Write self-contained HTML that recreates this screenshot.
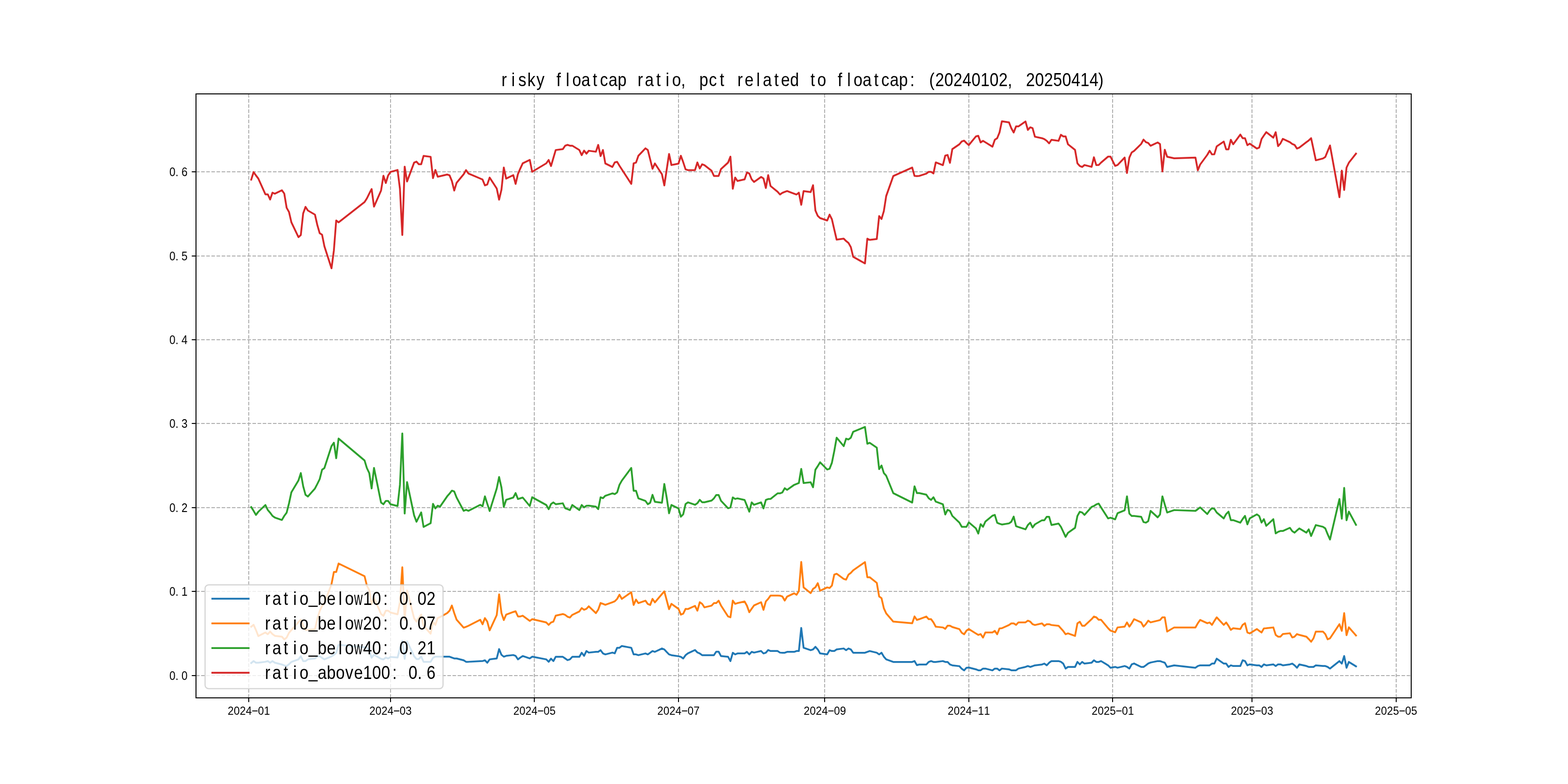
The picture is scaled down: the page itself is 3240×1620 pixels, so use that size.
<!DOCTYPE html>
<html lang="en"><head><meta charset="utf-8"><title>risky floatcap ratio</title>
<style>html,body{margin:0;padding:0;background:#fff}body{width:3240px;height:1620px;overflow:hidden}svg{display:block}text{font-family:'Liberation Sans', 'DejaVu Sans', sans-serif;fill:#000}</style>
</head><body>
<svg width="3240" height="1620" viewBox="0 0 3240 1620">
<rect x="0" y="0" width="3240" height="1620" fill="#ffffff"/>
<g id="grid" stroke="#b0b0b0" stroke-width="2" stroke-dasharray="7.4 3.2" fill="none">
<line x1="514" y1="1441.8" x2="514" y2="194.4"/>
<line x1="807" y1="1441.8" x2="807" y2="194.4"/>
<line x1="1104" y1="1441.8" x2="1104" y2="194.4"/>
<line x1="1402" y1="1441.8" x2="1402" y2="194.4"/>
<line x1="1704" y1="1441.8" x2="1704" y2="194.4"/>
<line x1="2002" y1="1441.8" x2="2002" y2="194.4"/>
<line x1="2299" y1="1441.8" x2="2299" y2="194.4"/>
<line x1="2587" y1="1441.8" x2="2587" y2="194.4"/>
<line x1="2885" y1="1441.8" x2="2885" y2="194.4"/>
<line x1="405" y1="1396" x2="2916" y2="1396"/>
<line x1="405" y1="1222" x2="2916" y2="1222"/>
<line x1="405" y1="1049" x2="2916" y2="1049"/>
<line x1="405" y1="875" x2="2916" y2="875"/>
<line x1="405" y1="702" x2="2916" y2="702"/>
<line x1="405" y1="529" x2="2916" y2="529"/>
<line x1="405" y1="355" x2="2916" y2="355"/>
</g>
<clipPath id="ax"><rect x="405" y="194" width="2511" height="1248"/></clipPath>
<g id="series" clip-path="url(#ax)" fill="none" stroke-width="3.75" stroke-linejoin="round" stroke-linecap="square">
<polyline stroke="#1f77b4" points="519.1,1370.0 524.0,1366.0 528.9,1369.4 533.8,1369.4 548.4,1367.5 553.3,1366.0 558.2,1369.4 563.0,1366.0 567.9,1369.4 582.5,1373.1 587.4,1375.0 592.3,1376.2 597.2,1372.5 602.1,1367.8 616.7,1362.5 621.6,1356.0 626.4,1366.0 631.3,1366.0 636.2,1362.5 650.8,1360.6 655.7,1356.2 660.6,1356.0 665.5,1359.4 670.3,1362.5 685.0,1356.2 689.9,1353.1 694.7,1349.0 699.6,1332.3 753.3,1337.4 758.1,1338.1 763.0,1344.3 767.9,1359.1 772.8,1352.9 787.4,1361.4 792.3,1362.6 797.2,1358.7 802.0,1360.7 806.9,1357.5 821.5,1358.7 826.4,1340.5 831.3,1324.2 836.2,1361.4 841.1,1325.3 855.7,1356.0 860.6,1361.8 865.4,1361.8 870.3,1356.8 875.2,1367.6 889.8,1367.5 894.7,1359.4 899.6,1356.9 904.5,1356.9 909.3,1356.9 924.0,1356.9 928.9,1356.9 933.7,1358.8 938.6,1360.6 943.5,1360.6 958.1,1364.4 963.0,1367.5 967.9,1367.5 992.3,1366.2 997.1,1366.0 1002.0,1364.4 1006.9,1369.4 1011.8,1362.5 1026.4,1360.6 1031.3,1341.2 1036.2,1353.1 1041.0,1356.9 1045.9,1355.2 1060.6,1353.5 1065.4,1355.2 1070.3,1362.5 1075.2,1358.8 1080.1,1355.6 1094.7,1360.6 1099.6,1356.9 1128.8,1362.5 1133.7,1367.5 1138.6,1361.0 1143.5,1366.0 1148.3,1357.2 1163.0,1357.2 1167.9,1360.6 1172.7,1364.0 1177.6,1362.5 1182.5,1357.2 1197.1,1357.2 1202.0,1348.8 1206.9,1355.2 1211.8,1345.2 1216.6,1348.5 1231.3,1346.9 1236.1,1346.9 1241.0,1343.5 1245.9,1350.2 1250.8,1352.2 1265.4,1348.5 1270.3,1350.0 1275.2,1338.5 1280.0,1338.5 1284.9,1334.8 1304.4,1338.5 1309.3,1352.2 1314.2,1352.2 1319.1,1353.8 1333.7,1350.2 1338.6,1352.2 1343.5,1348.8 1348.3,1345.2 1353.2,1346.9 1367.8,1340.0 1372.7,1341.9 1377.6,1347.2 1382.5,1352.2 1387.4,1353.8 1402.0,1356.0 1406.9,1357.2 1411.7,1360.6 1416.6,1353.8 1421.5,1350.0 1436.1,1343.1 1441.0,1348.1 1445.9,1350.2 1450.8,1353.8 1455.6,1353.8 1470.3,1353.8 1475.2,1353.8 1480.0,1346.5 1484.9,1346.5 1489.8,1355.6 1504.4,1357.2 1509.3,1366.0 1514.2,1348.8 1519.0,1352.2 1523.9,1350.2 1538.6,1350.2 1543.4,1346.9 1548.3,1352.2 1553.2,1346.9 1558.1,1348.5 1572.7,1345.2 1577.6,1350.2 1582.5,1348.8 1587.3,1343.1 1592.2,1345.2 1606.8,1345.2 1611.7,1348.5 1616.6,1348.8 1621.5,1348.8 1626.4,1346.9 1641.0,1346.9 1645.9,1345.2 1650.7,1345.2 1655.6,1297.5 1660.5,1338.5 1675.1,1343.5 1680.0,1341.9 1684.9,1336.5 1689.8,1341.9 1694.6,1350.2 1709.3,1352.2 1714.2,1343.5 1719.0,1345.2 1723.9,1345.2 1728.8,1341.9 1743.4,1340.0 1748.3,1343.5 1753.2,1340.0 1758.1,1341.9 1762.9,1348.8 1787.3,1348.8 1792.2,1346.9 1797.1,1345.2 1811.7,1348.8 1816.6,1352.2 1821.5,1348.8 1826.3,1356.9 1831.2,1362.5 1845.8,1367.8 1884.9,1367.8 1889.7,1366.0 1894.6,1374.4 1899.5,1373.1 1914.1,1373.1 1919.0,1367.8 1923.9,1366.0 1928.8,1367.8 1933.6,1367.8 1948.3,1366.0 1953.2,1367.8 1958.0,1367.8 1962.9,1373.1 1967.8,1374.8 1982.4,1376.5 1987.3,1381.9 1992.2,1385.2 1997.1,1379.8 2001.9,1379.4 2016.6,1383.1 2021.4,1385.0 2026.3,1385.0 2031.2,1381.5 2036.1,1381.5 2050.7,1385.2 2055.6,1381.5 2060.5,1381.5 2065.3,1385.2 2070.2,1381.5 2084.9,1383.1 2089.7,1385.0 2094.6,1385.0 2099.5,1385.0 2104.4,1381.5 2119.0,1378.1 2123.9,1376.2 2128.8,1378.1 2133.6,1376.5 2138.5,1374.8 2153.1,1373.1 2158.0,1371.2 2162.9,1374.8 2167.8,1369.4 2172.7,1366.0 2187.3,1366.0 2192.2,1367.5 2197.0,1371.2 2201.9,1381.5 2206.8,1378.1 2221.4,1378.1 2226.3,1367.8 2231.2,1372.8 2236.1,1367.8 2240.9,1371.2 2255.6,1369.4 2260.4,1364.4 2265.3,1367.8 2270.2,1367.8 2275.1,1366.0 2289.7,1374.8 2294.6,1379.8 2304.3,1378.1 2309.2,1379.8 2323.9,1376.2 2328.7,1378.1 2333.6,1381.5 2338.5,1372.8 2343.4,1371.0 2358.0,1378.1 2362.9,1378.1 2367.8,1374.8 2372.6,1371.0 2377.5,1369.0 2392.1,1366.0 2397.0,1366.0 2401.9,1367.8 2406.8,1369.4 2411.7,1378.1 2426.3,1374.8 2470.2,1379.8 2475.1,1376.2 2479.9,1374.8 2494.6,1374.8 2499.5,1374.8 2504.3,1371.2 2509.2,1371.2 2514.1,1361.0 2528.7,1371.2 2533.6,1371.2 2538.5,1378.1 2543.3,1374.8 2548.2,1376.2 2562.9,1376.2 2567.7,1364.4 2572.6,1366.0 2577.5,1374.8 2582.4,1372.8 2597.0,1374.8 2601.9,1374.8 2606.8,1378.1 2611.6,1372.8 2616.5,1374.8 2631.1,1372.8 2636.0,1376.2 2640.9,1372.8 2645.8,1372.8 2650.7,1374.8 2665.3,1372.8 2670.2,1371.2 2675.0,1374.8 2679.9,1379.8 2684.8,1372.8 2699.4,1376.2 2704.3,1378.1 2709.2,1378.1 2714.1,1378.1 2718.9,1374.8 2733.6,1376.2 2738.5,1376.2 2743.3,1378.1 2748.2,1381.5 2767.7,1366.0 2772.6,1371.2 2777.5,1355.6 2782.4,1379.8 2787.2,1367.8 2801.9,1376.9"/>
<polyline stroke="#ff7f0e" points="519.1,1295.0 524.0,1291.0 528.9,1301.9 533.8,1314.4 548.4,1306.9 553.3,1310.6 558.2,1305.0 563.0,1310.2 567.9,1313.8 582.5,1315.6 587.4,1321.2 592.3,1317.5 597.2,1307.5 602.1,1301.9 616.7,1285.6 621.6,1280.6 626.4,1293.1 631.3,1301.9 636.2,1301.5 650.8,1300.0 655.7,1278.8 660.6,1262.5 665.5,1251.9 670.3,1246.5 685.0,1206.9 689.9,1181.9 694.7,1181.9 699.6,1164.4 753.3,1190.6 758.1,1210.0 763.0,1219.4 767.9,1248.8 772.8,1235.0 787.4,1268.8 792.3,1272.5 797.2,1261.9 802.0,1261.9 806.9,1265.6 821.5,1269.4 826.4,1243.8 831.3,1172.2 836.2,1281.2 841.1,1220.0 855.7,1277.5 860.6,1284.4 865.4,1276.9 870.3,1270.0 875.2,1293.1 889.8,1309.4 894.7,1285.0 899.6,1291.2 904.5,1276.9 909.3,1275.0 924.0,1266.9 928.9,1261.9 933.7,1251.2 938.6,1266.9 943.5,1280.6 958.1,1296.9 963.0,1295.2 967.9,1293.1 992.3,1280.6 997.1,1290.0 1002.0,1277.2 1006.9,1284.4 1011.8,1302.5 1026.4,1271.0 1031.3,1228.1 1036.2,1266.9 1041.0,1281.2 1045.9,1270.0 1060.6,1264.6 1065.4,1263.1 1070.3,1273.8 1075.2,1273.8 1080.1,1272.2 1094.7,1283.1 1099.6,1279.4 1128.8,1286.2 1133.7,1291.2 1138.6,1286.2 1143.5,1284.4 1148.3,1272.2 1163.0,1268.8 1167.9,1270.6 1172.7,1274.4 1177.6,1276.0 1182.5,1270.6 1197.1,1263.5 1202.0,1256.5 1206.9,1260.0 1211.8,1258.1 1216.6,1252.8 1231.3,1266.9 1236.1,1259.8 1241.0,1246.0 1245.9,1247.8 1250.8,1249.8 1265.4,1244.4 1270.3,1242.5 1275.2,1237.5 1280.0,1228.8 1284.9,1237.5 1304.4,1223.8 1309.3,1250.0 1314.2,1239.0 1319.1,1246.2 1333.7,1241.2 1338.6,1248.1 1343.5,1250.0 1348.3,1237.5 1353.2,1244.8 1367.8,1227.5 1372.7,1221.9 1377.6,1240.2 1382.5,1258.8 1387.4,1247.8 1402.0,1258.1 1406.9,1270.0 1411.7,1268.1 1416.6,1258.1 1421.5,1258.5 1436.1,1251.9 1441.0,1261.9 1445.9,1244.4 1450.8,1247.8 1455.6,1255.0 1470.3,1251.5 1475.2,1246.2 1480.0,1246.2 1484.9,1241.2 1489.8,1251.2 1504.4,1273.8 1509.3,1275.6 1514.2,1241.0 1519.0,1247.8 1523.9,1246.2 1538.6,1242.8 1543.4,1251.5 1548.3,1265.0 1553.2,1257.8 1558.1,1251.0 1572.7,1244.4 1577.6,1260.2 1582.5,1242.8 1587.3,1237.5 1592.2,1230.6 1606.8,1230.6 1611.7,1230.9 1616.6,1232.5 1621.5,1241.0 1626.4,1232.8 1641.0,1226.0 1645.9,1229.0 1650.7,1221.2 1655.6,1161.2 1660.5,1213.8 1675.1,1225.6 1680.0,1216.9 1684.9,1213.5 1689.8,1205.0 1694.6,1220.6 1709.3,1213.8 1714.2,1215.0 1719.0,1210.0 1723.9,1187.2 1728.8,1185.6 1743.4,1196.2 1748.3,1197.8 1753.2,1187.5 1758.1,1183.8 1762.9,1178.5 1787.3,1161.5 1792.2,1192.8 1797.1,1192.8 1811.7,1204.4 1816.6,1232.5 1821.5,1236.0 1826.3,1256.9 1831.2,1267.5 1845.8,1284.4 1884.9,1287.8 1889.7,1273.8 1894.6,1281.0 1899.5,1279.4 1914.1,1274.0 1919.0,1279.4 1923.9,1279.4 1928.8,1286.2 1933.6,1295.0 1948.3,1296.5 1953.2,1299.4 1958.0,1292.8 1962.9,1292.8 1967.8,1295.6 1982.4,1300.0 1987.3,1307.5 1992.2,1310.6 1997.1,1303.1 2001.9,1299.8 2016.6,1309.0 2021.4,1311.9 2026.3,1310.2 2031.2,1317.5 2036.1,1306.9 2050.7,1306.9 2055.6,1303.5 2060.5,1310.6 2065.3,1298.5 2070.2,1298.1 2084.9,1291.5 2089.7,1288.1 2094.6,1288.1 2099.5,1291.2 2104.4,1286.0 2119.0,1286.0 2123.9,1282.5 2128.8,1284.4 2133.6,1289.8 2138.5,1291.5 2153.1,1288.1 2158.0,1293.1 2162.9,1289.8 2167.8,1289.8 2172.7,1291.5 2187.3,1293.1 2192.2,1298.5 2197.0,1303.8 2201.9,1310.6 2206.8,1308.8 2221.4,1314.0 2226.3,1288.1 2231.2,1284.8 2236.1,1293.1 2240.9,1293.1 2255.6,1279.4 2260.4,1274.0 2265.3,1275.6 2270.2,1280.6 2275.1,1280.6 2289.7,1298.1 2294.6,1303.1 2304.3,1306.5 2309.2,1296.5 2323.9,1294.8 2328.7,1286.2 2333.6,1294.8 2338.5,1287.8 2343.4,1279.4 2358.0,1286.0 2362.9,1294.8 2367.8,1289.4 2372.6,1282.5 2377.5,1286.0 2392.1,1282.5 2397.0,1281.2 2401.9,1275.6 2406.8,1275.6 2411.7,1305.0 2426.3,1296.5 2470.2,1296.5 2475.1,1287.8 2479.9,1281.0 2494.6,1287.8 2499.5,1286.2 2504.3,1291.2 2509.2,1283.1 2514.1,1275.6 2528.7,1291.2 2533.6,1286.2 2538.5,1293.1 2543.3,1301.5 2548.2,1298.1 2562.9,1299.8 2567.7,1291.2 2572.6,1287.8 2577.5,1306.9 2582.4,1308.8 2597.0,1299.8 2601.9,1303.5 2606.8,1306.9 2611.6,1298.5 2616.5,1298.1 2631.1,1296.5 2636.0,1311.9 2640.9,1315.6 2645.8,1315.6 2650.7,1310.2 2665.3,1308.5 2670.2,1317.2 2675.0,1315.6 2679.9,1310.2 2684.8,1311.9 2699.4,1315.6 2704.3,1320.6 2709.2,1326.0 2714.1,1319.0 2718.9,1305.0 2733.6,1305.0 2738.5,1310.2 2743.3,1321.0 2748.2,1319.0 2767.7,1289.8 2772.6,1303.5 2777.5,1266.9 2782.4,1312.5 2787.2,1296.2 2801.9,1313.1"/>
<polyline stroke="#2ca02c" points="519.1,1047.8 524.0,1055.6 528.9,1064.0 533.8,1057.5 548.4,1043.5 553.3,1053.8 558.2,1059.4 563.0,1066.0 567.9,1069.4 582.5,1074.4 587.4,1066.0 592.3,1059.4 597.2,1040.0 602.1,1017.2 616.7,992.8 621.6,977.5 626.4,1004.4 631.3,1022.5 636.2,1026.0 650.8,1009.4 655.7,1000.0 660.6,990.0 665.5,970.6 670.3,967.2 685.0,921.9 689.9,914.8 694.7,946.9 699.6,906.2 753.3,951.5 758.1,967.2 763.0,977.5 767.9,1009.4 772.8,966.9 787.4,1038.5 792.3,1041.9 797.2,1035.0 802.0,1035.0 806.9,1041.9 821.5,1045.6 826.4,1001.9 831.3,895.6 836.2,1061.2 841.1,996.2 855.7,1065.0 860.6,1078.1 865.4,1068.5 870.3,1058.8 875.2,1088.8 889.8,1081.2 894.7,1041.2 899.6,1050.6 904.5,1045.0 909.3,1046.9 924.0,1025.6 928.9,1020.0 933.7,1013.8 938.6,1015.6 943.5,1028.1 958.1,1055.6 963.0,1053.5 967.9,1055.6 992.3,1043.1 997.1,1046.2 1002.0,1025.6 1006.9,1041.0 1011.8,1056.0 1026.4,1009.4 1031.3,985.6 1036.2,1007.5 1041.0,1047.5 1045.9,1032.8 1060.6,1028.1 1065.4,1018.8 1070.3,1031.2 1075.2,1029.6 1080.1,1028.1 1094.7,1045.6 1099.6,1027.5 1128.8,1043.5 1133.7,1052.2 1138.6,1041.5 1143.5,1038.1 1148.3,1041.9 1163.0,1040.0 1167.9,1050.2 1172.7,1052.1 1177.6,1054.0 1182.5,1043.5 1197.1,1054.0 1202.0,1043.5 1206.9,1048.5 1211.8,1045.0 1216.6,1044.8 1231.3,1046.9 1236.1,1052.1 1241.0,1027.5 1245.9,1029.4 1250.8,1024.4 1265.4,1019.4 1270.3,1021.0 1275.2,1017.5 1280.0,1001.9 1284.9,993.1 1304.4,966.9 1309.3,1014.0 1314.2,1014.0 1319.1,1029.8 1333.7,1035.0 1338.6,1041.9 1343.5,1038.8 1348.3,1022.5 1353.2,1036.9 1367.8,1038.8 1372.7,1000.0 1377.6,1028.1 1382.5,1060.6 1387.4,1043.5 1402.0,1050.6 1406.9,1067.8 1411.7,1062.8 1416.6,1041.5 1421.5,1038.1 1436.1,1043.1 1441.0,1039.8 1445.9,1032.8 1450.8,1037.8 1455.6,1037.8 1470.3,1034.4 1475.2,1029.8 1480.0,1022.8 1484.9,1022.8 1489.8,1034.8 1504.4,1050.2 1509.3,1048.5 1514.2,1027.8 1519.0,1031.0 1523.9,1029.8 1538.6,1033.1 1543.4,1045.0 1548.3,1057.2 1553.2,1038.1 1558.1,1043.1 1572.7,1038.1 1577.6,1050.6 1582.5,1033.1 1587.3,1031.2 1592.2,1031.0 1606.8,1019.4 1611.7,1019.4 1616.6,1017.5 1621.5,1008.8 1626.4,1012.2 1641.0,1001.9 1645.9,1000.0 1650.7,998.1 1655.6,968.8 1660.5,998.1 1675.1,996.5 1680.0,1006.9 1684.9,970.6 1689.8,963.1 1694.6,955.2 1709.3,970.2 1714.2,968.5 1719.0,956.2 1723.9,931.9 1728.8,904.4 1743.4,921.9 1748.3,906.5 1753.2,908.1 1758.1,904.4 1762.9,892.2 1787.3,882.2 1792.2,916.9 1797.1,915.0 1811.7,925.0 1816.6,969.4 1821.5,961.9 1826.3,977.5 1831.2,983.1 1845.8,1019.0 1884.9,1038.5 1889.7,1004.8 1894.6,1018.8 1899.5,1018.8 1914.1,1022.2 1919.0,1029.4 1923.9,1033.1 1928.8,1027.5 1933.6,1036.5 1948.3,1041.9 1953.2,1063.1 1958.0,1053.5 1962.9,1055.6 1967.8,1066.0 1982.4,1079.8 1987.3,1088.5 1992.2,1088.5 1997.1,1088.5 2001.9,1079.4 2016.6,1091.9 2021.4,1102.5 2026.3,1083.1 2031.2,1088.5 2036.1,1077.8 2050.7,1065.6 2055.6,1064.0 2060.5,1080.2 2065.3,1082.2 2070.2,1083.8 2084.9,1081.5 2089.7,1078.1 2094.6,1067.5 2099.5,1087.2 2104.4,1089.0 2119.0,1093.8 2123.9,1084.8 2128.8,1080.0 2133.6,1090.0 2138.5,1083.5 2153.1,1075.0 2158.0,1075.0 2162.9,1067.8 2167.8,1067.8 2172.7,1084.8 2187.3,1081.9 2192.2,1088.5 2197.0,1098.8 2201.9,1109.4 2206.8,1101.0 2221.4,1090.6 2226.3,1066.2 2231.2,1057.5 2236.1,1059.0 2240.9,1064.0 2255.6,1047.5 2260.4,1045.6 2265.3,1042.2 2270.2,1040.6 2275.1,1048.5 2289.7,1071.2 2294.6,1069.8 2304.3,1073.1 2309.2,1060.6 2323.9,1054.4 2328.7,1025.6 2333.6,1061.2 2338.5,1066.2 2343.4,1066.2 2358.0,1067.8 2362.9,1078.8 2367.8,1080.0 2372.6,1076.9 2377.5,1055.6 2392.1,1069.0 2397.0,1063.1 2401.9,1025.6 2406.8,1042.5 2411.7,1059.0 2426.3,1054.0 2470.2,1055.6 2475.1,1052.1 2479.9,1048.5 2494.6,1062.2 2499.5,1055.0 2504.3,1050.2 2509.2,1051.5 2514.1,1059.0 2528.7,1071.2 2533.6,1062.2 2538.5,1057.2 2543.3,1074.8 2548.2,1074.8 2562.9,1080.0 2567.7,1072.5 2572.6,1066.0 2577.5,1083.5 2582.4,1071.2 2597.0,1062.8 2601.9,1066.2 2606.8,1079.8 2611.6,1072.8 2616.5,1086.5 2631.1,1072.8 2636.0,1102.2 2640.9,1099.0 2645.8,1097.2 2650.7,1097.2 2665.3,1090.6 2670.2,1097.5 2675.0,1100.6 2679.9,1096.2 2684.8,1091.9 2699.4,1100.6 2704.3,1093.8 2709.2,1107.5 2714.1,1096.0 2718.9,1085.0 2733.6,1088.5 2738.5,1091.9 2743.3,1103.8 2748.2,1114.8 2767.7,1031.2 2772.6,1071.9 2777.5,1008.1 2782.4,1075.0 2787.2,1057.2 2801.9,1084.4"/>
<polyline stroke="#d62728" points="519.1,371.2 524.0,355.6 528.9,362.5 533.8,369.0 548.4,401.5 553.3,401.5 558.2,412.2 563.0,398.1 567.9,400.2 582.5,393.1 587.4,400.0 592.3,429.4 597.2,438.1 602.1,459.4 616.7,490.0 621.6,485.6 626.4,441.2 631.3,427.5 636.2,435.0 650.8,443.5 655.7,465.0 660.6,481.9 665.5,485.0 670.3,508.8 685.0,554.4 689.9,517.5 694.7,455.6 699.6,459.4 753.3,417.5 758.1,410.0 763.0,400.0 767.9,390.6 772.8,426.9 787.4,393.8 792.3,363.1 797.2,378.1 802.0,362.5 806.9,355.2 821.5,351.2 826.4,390.0 831.3,485.6 836.2,344.4 841.1,375.0 855.7,336.0 860.6,334.0 865.4,339.4 870.3,339.4 875.2,322.2 889.8,324.0 894.7,368.1 899.6,351.2 904.5,365.2 909.3,364.1 924.0,360.6 928.9,362.2 933.7,374.0 938.6,393.8 943.5,377.8 958.1,360.0 963.0,351.5 967.9,358.5 992.3,368.9 997.1,371.0 1002.0,383.1 1006.9,381.2 1011.8,366.9 1026.4,389.4 1031.3,412.5 1036.2,391.9 1041.0,346.2 1045.9,369.0 1060.6,361.9 1065.4,380.0 1070.3,359.4 1075.2,348.1 1080.1,337.5 1094.7,330.4 1099.6,355.0 1128.8,337.5 1133.7,330.6 1138.6,343.1 1143.5,326.2 1148.3,310.0 1163.0,308.1 1167.9,301.0 1172.7,299.4 1177.6,301.0 1182.5,301.0 1197.1,310.0 1202.0,320.6 1206.9,311.2 1211.8,317.5 1216.6,311.5 1231.3,313.5 1236.1,299.4 1241.0,322.5 1245.9,310.0 1250.8,337.8 1265.4,345.0 1270.3,335.6 1275.2,334.4 1280.0,342.5 1284.9,350.0 1304.4,380.0 1309.3,337.5 1314.2,336.0 1319.1,321.9 1333.7,306.5 1338.6,310.0 1343.5,329.4 1348.3,348.8 1353.2,337.8 1367.8,360.0 1372.7,383.1 1377.6,350.6 1382.5,318.1 1387.4,341.0 1402.0,338.1 1406.9,321.9 1411.7,335.0 1416.6,350.0 1421.5,351.5 1436.1,351.5 1441.0,335.6 1445.9,348.1 1450.8,339.4 1455.6,341.2 1470.3,352.8 1475.2,363.5 1480.0,363.5 1484.9,363.5 1489.8,349.4 1504.4,336.0 1509.3,323.8 1514.2,390.0 1519.0,366.9 1523.9,374.0 1538.6,370.6 1543.4,356.5 1548.3,358.5 1553.2,370.6 1558.1,376.0 1572.7,365.6 1577.6,368.8 1582.5,388.5 1587.3,361.9 1592.2,384.4 1606.8,396.2 1611.7,401.9 1616.6,398.5 1621.5,396.5 1626.4,394.8 1641.0,400.2 1645.9,401.9 1650.7,398.1 1655.6,423.1 1660.5,394.8 1675.1,396.9 1680.0,382.8 1684.9,435.0 1689.8,446.2 1694.6,450.6 1709.3,455.6 1714.2,443.5 1719.0,453.1 1723.9,474.4 1728.8,495.2 1743.4,493.1 1748.3,498.1 1753.2,501.9 1758.1,510.6 1762.9,530.6 1787.3,544.4 1792.2,493.1 1797.1,495.6 1811.7,493.8 1816.6,446.5 1821.5,452.5 1826.3,436.2 1831.2,405.0 1845.8,363.8 1884.9,346.2 1889.7,363.5 1894.6,363.8 1899.5,363.5 1914.1,358.8 1919.0,355.0 1923.9,355.0 1928.8,358.5 1933.6,335.6 1948.3,341.2 1953.2,321.5 1958.0,320.2 1962.9,336.5 1967.8,308.1 1982.4,298.1 1987.3,292.2 1992.2,290.6 1997.1,295.6 2001.9,299.8 2016.6,281.9 2021.4,280.6 2026.3,294.4 2031.2,291.0 2036.1,294.0 2050.7,303.1 2055.6,288.8 2060.5,285.6 2065.3,273.8 2070.2,250.6 2084.9,252.8 2089.7,265.0 2094.6,273.8 2099.5,261.2 2104.4,261.2 2119.0,251.0 2123.9,268.5 2128.8,263.1 2133.6,264.8 2138.5,282.5 2153.1,285.6 2158.0,287.5 2162.9,291.0 2167.8,296.2 2172.7,288.8 2187.3,291.0 2192.2,278.5 2197.0,281.9 2201.9,281.9 2206.8,298.1 2221.4,309.8 2226.3,337.5 2231.2,343.1 2236.1,345.0 2240.9,341.0 2255.6,344.8 2260.4,325.0 2265.3,341.2 2270.2,341.0 2275.1,336.0 2289.7,323.5 2294.6,323.5 2304.3,342.8 2309.2,341.0 2323.9,325.6 2328.7,357.5 2333.6,325.6 2338.5,315.0 2343.4,311.9 2358.0,297.5 2362.9,288.5 2367.8,293.8 2372.6,295.6 2377.5,301.2 2392.1,294.4 2397.0,297.8 2401.9,354.4 2406.8,309.4 2411.7,323.8 2426.3,327.2 2470.2,325.6 2475.1,351.9 2479.9,340.0 2494.6,320.0 2499.5,311.5 2504.3,319.0 2509.2,318.8 2514.1,302.5 2528.7,292.5 2533.6,308.5 2538.5,308.5 2543.3,288.8 2548.2,298.1 2562.9,278.1 2567.7,285.6 2572.6,285.6 2577.5,300.0 2582.4,296.9 2597.0,306.9 2601.9,305.0 2606.8,287.2 2611.6,280.0 2616.5,273.1 2631.1,284.4 2636.0,273.1 2640.9,301.9 2645.8,296.5 2650.7,286.9 2665.3,293.8 2670.2,297.5 2675.0,299.4 2679.9,306.9 2684.8,305.0 2699.4,293.8 2704.3,290.2 2709.2,285.6 2714.1,308.5 2718.9,331.2 2733.6,327.5 2738.5,324.4 2743.3,312.5 2748.2,300.6 2767.7,407.5 2772.6,352.5 2777.5,392.5 2782.4,346.2 2787.2,336.2 2801.9,317.5"/>
</g>
<g id="ticks" stroke="#000" stroke-width="2">
<line x1="514" y1="1442" x2="514" y2="1450.75"/>
<line x1="807" y1="1442" x2="807" y2="1450.75"/>
<line x1="1104" y1="1442" x2="1104" y2="1450.75"/>
<line x1="1402" y1="1442" x2="1402" y2="1450.75"/>
<line x1="1704" y1="1442" x2="1704" y2="1450.75"/>
<line x1="2002" y1="1442" x2="2002" y2="1450.75"/>
<line x1="2299" y1="1442" x2="2299" y2="1450.75"/>
<line x1="2587" y1="1442" x2="2587" y2="1450.75"/>
<line x1="2885" y1="1442" x2="2885" y2="1450.75"/>
<line x1="405" y1="1396" x2="396.25" y2="1396"/>
<line x1="405" y1="1222" x2="396.25" y2="1222"/>
<line x1="405" y1="1049" x2="396.25" y2="1049"/>
<line x1="405" y1="875" x2="396.25" y2="875"/>
<line x1="405" y1="702" x2="396.25" y2="702"/>
<line x1="405" y1="529" x2="396.25" y2="529"/>
<line x1="405" y1="355" x2="396.25" y2="355"/>
</g>
<rect x="405" y="194" width="2511" height="1248" fill="none" stroke="#000" stroke-width="2"/>
<g id="xlabels">
<text font-size="24.4" text-anchor="middle" transform="translate(470.51 1476.5) scale(0.91 1.01)" x="6.87 20.60 34.34 48.08 61.81 75.55 89.29" y="0 0 0 0 -1.8 0 0">2024<tspan textLength="16.5" lengthAdjust="spacingAndGlyphs">-</tspan>01</text>
<text font-size="24.4" text-anchor="middle" transform="translate(763.17 1476.5) scale(0.91 1.01)" x="6.87 20.60 34.34 48.08 61.81 75.55 89.29" y="0 0 0 0 -1.8 0 0">2024<tspan textLength="16.5" lengthAdjust="spacingAndGlyphs">-</tspan>03</text>
<text font-size="24.4" text-anchor="middle" transform="translate(1060.70 1476.5) scale(0.91 1.01)" x="6.87 20.60 34.34 48.08 61.81 75.55 89.29" y="0 0 0 0 -1.8 0 0">2024<tspan textLength="16.5" lengthAdjust="spacingAndGlyphs">-</tspan>05</text>
<text font-size="24.4" text-anchor="middle" transform="translate(1358.24 1476.5) scale(0.91 1.01)" x="6.87 20.60 34.34 48.08 61.81 75.55 89.29" y="0 0 0 0 -1.8 0 0">2024<tspan textLength="16.5" lengthAdjust="spacingAndGlyphs">-</tspan>07</text>
<text font-size="24.4" text-anchor="middle" transform="translate(1660.65 1476.5) scale(0.91 1.01)" x="6.87 20.60 34.34 48.08 61.81 75.55 89.29" y="0 0 0 0 -1.8 0 0">2024<tspan textLength="16.5" lengthAdjust="spacingAndGlyphs">-</tspan>09</text>
<text font-size="24.4" text-anchor="middle" transform="translate(1958.18 1476.5) scale(0.91 1.01)" x="6.87 20.60 34.34 48.08 61.81 75.55 89.29" y="0 0 0 0 -1.8 0 0">2024<tspan textLength="16.5" lengthAdjust="spacingAndGlyphs">-</tspan>11</text>
<text font-size="24.4" text-anchor="middle" transform="translate(2255.72 1476.5) scale(0.91 1.01)" x="6.87 20.60 34.34 48.08 61.81 75.55 89.29" y="0 0 0 0 -1.8 0 0">2025<tspan textLength="16.5" lengthAdjust="spacingAndGlyphs">-</tspan>01</text>
<text font-size="24.4" text-anchor="middle" transform="translate(2543.50 1476.5) scale(0.91 1.01)" x="6.87 20.60 34.34 48.08 61.81 75.55 89.29" y="0 0 0 0 -1.8 0 0">2025<tspan textLength="16.5" lengthAdjust="spacingAndGlyphs">-</tspan>03</text>
<text font-size="24.4" text-anchor="middle" transform="translate(2841.03 1476.5) scale(0.91 1.01)" x="6.87 20.60 34.34 48.08 61.81 75.55 89.29" y="0 0 0 0 -1.8 0 0">2025<tspan textLength="16.5" lengthAdjust="spacingAndGlyphs">-</tspan>05</text>
</g>
<g id="ylabels">
<text font-size="24.4" text-anchor="middle" transform="translate(350.00 1404.9) scale(0.92 1.04)" x="6.79 17.04 33.97" y="0">0.0</text>
<text font-size="24.4" text-anchor="middle" transform="translate(350.00 1230.9) scale(0.92 1.04)" x="6.79 17.04 33.97" y="0">0.1</text>
<text font-size="24.4" text-anchor="middle" transform="translate(350.00 1057.9) scale(0.92 1.04)" x="6.79 17.04 33.97" y="0">0.2</text>
<text font-size="24.4" text-anchor="middle" transform="translate(350.00 883.9) scale(0.92 1.04)" x="6.79 17.04 33.97" y="0">0.3</text>
<text font-size="24.4" text-anchor="middle" transform="translate(350.00 710.9) scale(0.92 1.04)" x="6.79 17.04 33.97" y="0">0.4</text>
<text font-size="24.4" text-anchor="middle" transform="translate(350.00 537.9) scale(0.92 1.04)" x="6.79 17.04 33.97" y="0">0.5</text>
<text font-size="24.4" text-anchor="middle" transform="translate(350.00 363.9) scale(0.92 1.04)" x="6.79 17.04 33.97" y="0">0.6</text>
</g>
<text font-size="35.6" text-anchor="middle" transform="translate(1032.38 177.7) scale(0.93 1.08)" x="10.08 30.24 50.40 70.56 90.73 110.89 131.05 151.21 171.37 191.53 211.69 231.85 252.02 272.18 292.34 312.50 332.66 352.82 372.98 393.15 407.94 433.47 453.63 473.79 493.95 514.11 534.27 554.44 574.60 594.76 614.92 635.08 655.24 675.40 695.56 715.73 735.89 756.05 776.21 796.37 816.53 836.69 856.85 877.02 897.18 916.94 937.50 960.36 977.82 997.98 1018.15 1038.31 1058.47 1078.63 1098.79 1118.95 1133.75 1159.27 1179.44 1199.60 1219.76 1239.92 1260.08 1280.24 1300.40 1320.56 1335.77" y="0" id="title">risky floatcap ratio, pct related to floatcap: (20240102, 20250414)</text>
<g id="legend">
<rect x="423.75" y="1208.4" width="491.7" height="214.65" rx="7.5" ry="7.5" fill="#ffffff" fill-opacity="0.8" stroke="#cccccc" stroke-opacity="0.8" stroke-width="2.5"/>
<line x1="438.75" y1="1237.0" x2="513.75" y2="1237.0" stroke="#1f77b4" stroke-width="3.75" stroke-linecap="square"/>
<text font-size="35.6" text-anchor="middle" transform="translate(543.75 1249.8) scale(0.93 1.08)" x="10.08 30.24 50.40 70.56 90.73 110.89 131.05 151.21 171.37 191.53 211.69 231.85 252.02 271.77 292.34 312.50 327.70 352.82 372.98" y="0 0 0 0 0 -3.2 0 0 0 0 0 0 0 0 0 0 0 0 0">ratio_belo<tspan textLength="18.8" lengthAdjust="spacingAndGlyphs">w</tspan>10: 0.02</text>
<line x1="438.75" y1="1288.1" x2="513.75" y2="1288.1" stroke="#ff7f0e" stroke-width="3.75" stroke-linecap="square"/>
<text font-size="35.6" text-anchor="middle" transform="translate(543.75 1300.9) scale(0.93 1.08)" x="10.08 30.24 50.40 70.56 90.73 110.89 131.05 151.21 171.37 191.53 211.69 231.85 252.02 271.77 292.34 312.50 327.70 352.82 372.98" y="0 0 0 0 0 -3.2 0 0 0 0 0 0 0 0 0 0 0 0 0">ratio_belo<tspan textLength="18.8" lengthAdjust="spacingAndGlyphs">w</tspan>20: 0.07</text>
<line x1="438.75" y1="1339.2" x2="513.75" y2="1339.2" stroke="#2ca02c" stroke-width="3.75" stroke-linecap="square"/>
<text font-size="35.6" text-anchor="middle" transform="translate(543.75 1352.0) scale(0.93 1.08)" x="10.08 30.24 50.40 70.56 90.73 110.89 131.05 151.21 171.37 191.53 211.69 231.85 252.02 271.77 292.34 312.50 327.70 352.82 372.98" y="0 0 0 0 0 -3.2 0 0 0 0 0 0 0 0 0 0 0 0 0">ratio_belo<tspan textLength="18.8" lengthAdjust="spacingAndGlyphs">w</tspan>40: 0.21</text>
<line x1="438.75" y1="1390.2" x2="513.75" y2="1390.2" stroke="#d62728" stroke-width="3.75" stroke-linecap="square"/>
<text font-size="35.6" text-anchor="middle" transform="translate(543.75 1403.0) scale(0.93 1.08)" x="10.08 30.24 50.40 70.56 90.73 110.89 131.05 151.21 171.37 191.53 211.69 231.85 252.02 272.18 291.94 312.50 332.66 347.86 372.98" y="0 0 0 0 0 -3.2 0 0 0 0 0 0 0 0 0 0 0 0 0">ratio_above100: 0.6</text>
</g>
</svg>
</body></html>
